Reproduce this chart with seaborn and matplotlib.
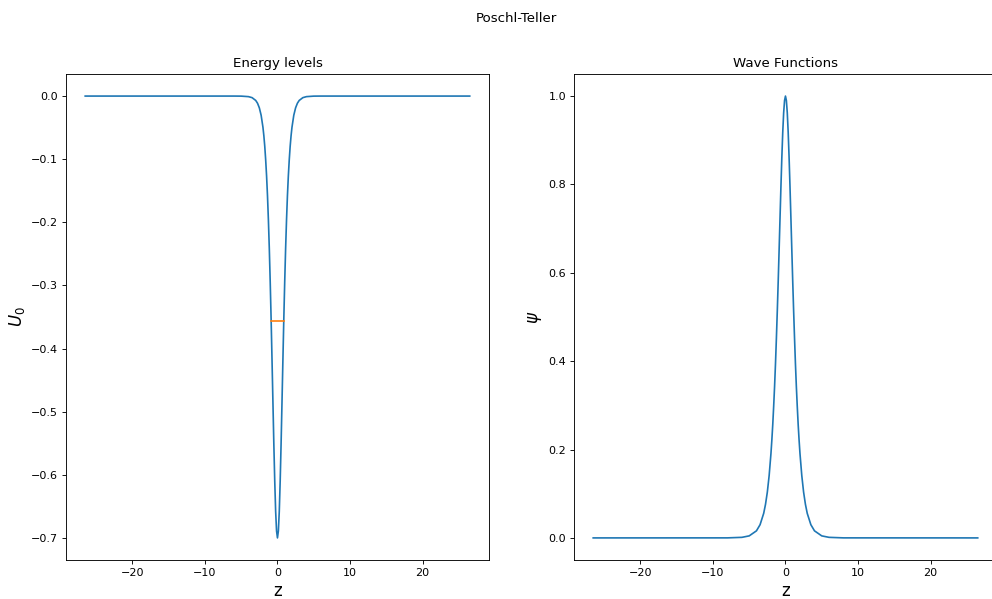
import numpy as np
import pandas as pd
import seaborn as sns
import matplotlib.pyplot as plt

# values (both curves are symmetric about z = 0)
z_half = [0, 0.125, 0.25, 0.375, 0.5, 0.625, 0.75, 0.875, 1, 1.125, 1.25, 1.375, 1.5,
          1.625, 1.75, 1.875, 2, 2.25, 2.5, 2.75, 3, 3.5, 4, 5, 6, 8, 26.5]
U_half = [-0.700, -0.689, -0.658, -0.610, -0.551, -0.485, -0.418, -0.353, -0.294,
          -0.2413, -0.196, -0.1577, -0.1265, -0.1009, -0.0797, -0.0629, -0.0495,
          -0.0304, -0.0186, -0.0113, -0.0069, -0.0025, -0.0009, -0.0001, 0.0, 0.0, 0.0]
psi_half = [1.0, 0.990, 0.962, 0.918, 0.861, 0.795, 0.724, 0.652, 0.581, 0.514, 0.452,
            0.394, 0.343, 0.298, 0.257, 0.222, 0.191, 0.141, 0.1036, 0.0761, 0.0557,
            0.0299, 0.016, 0.0046, 0.0013, 0.0001, 0.0]
z = [-v for v in z_half[::-1]] + z_half[1:]
U = U_half[::-1] + U_half[1:]
psi = psi_half[::-1] + psi_half[1:]

level_E = [-0.356, -0.356]
level_z = [-0.86, 0.86]

df = pd.DataFrame({'z': z, 'U': U, 'psi': psi})
lvl = pd.DataFrame({'z': level_z, 'E': level_E})

fig = plt.figure(figsize=(992 / 80, 599 / 80), dpi=80)
ax1 = fig.add_axes([0.0665, 0.0651, 0.4264, 0.8114])
ax2 = fig.add_axes([0.5786, 0.0651, 0.4264, 0.8114])

sns.lineplot(data=df, x='z', y='U', ax=ax1, color='C0', sort=False)
sns.lineplot(data=lvl, x='z', y='E', ax=ax1, color='C1')
ax1.set_title('Energy levels')
ax1.set_xlabel('z', fontsize=15)
ax1.set_ylabel('$U_0$', fontsize=15)

sns.lineplot(data=df, x='z', y='psi', ax=ax2, color='C0', sort=False)
ax2.set_title('Wave Functions')
ax2.set_xlabel('z', fontsize=15)
ax2.set_ylabel(r'$\psi$', fontsize=15)

fig.suptitle('Poschl-Teller', x=0.521)
fig.savefig('out.png', dpi=80)
